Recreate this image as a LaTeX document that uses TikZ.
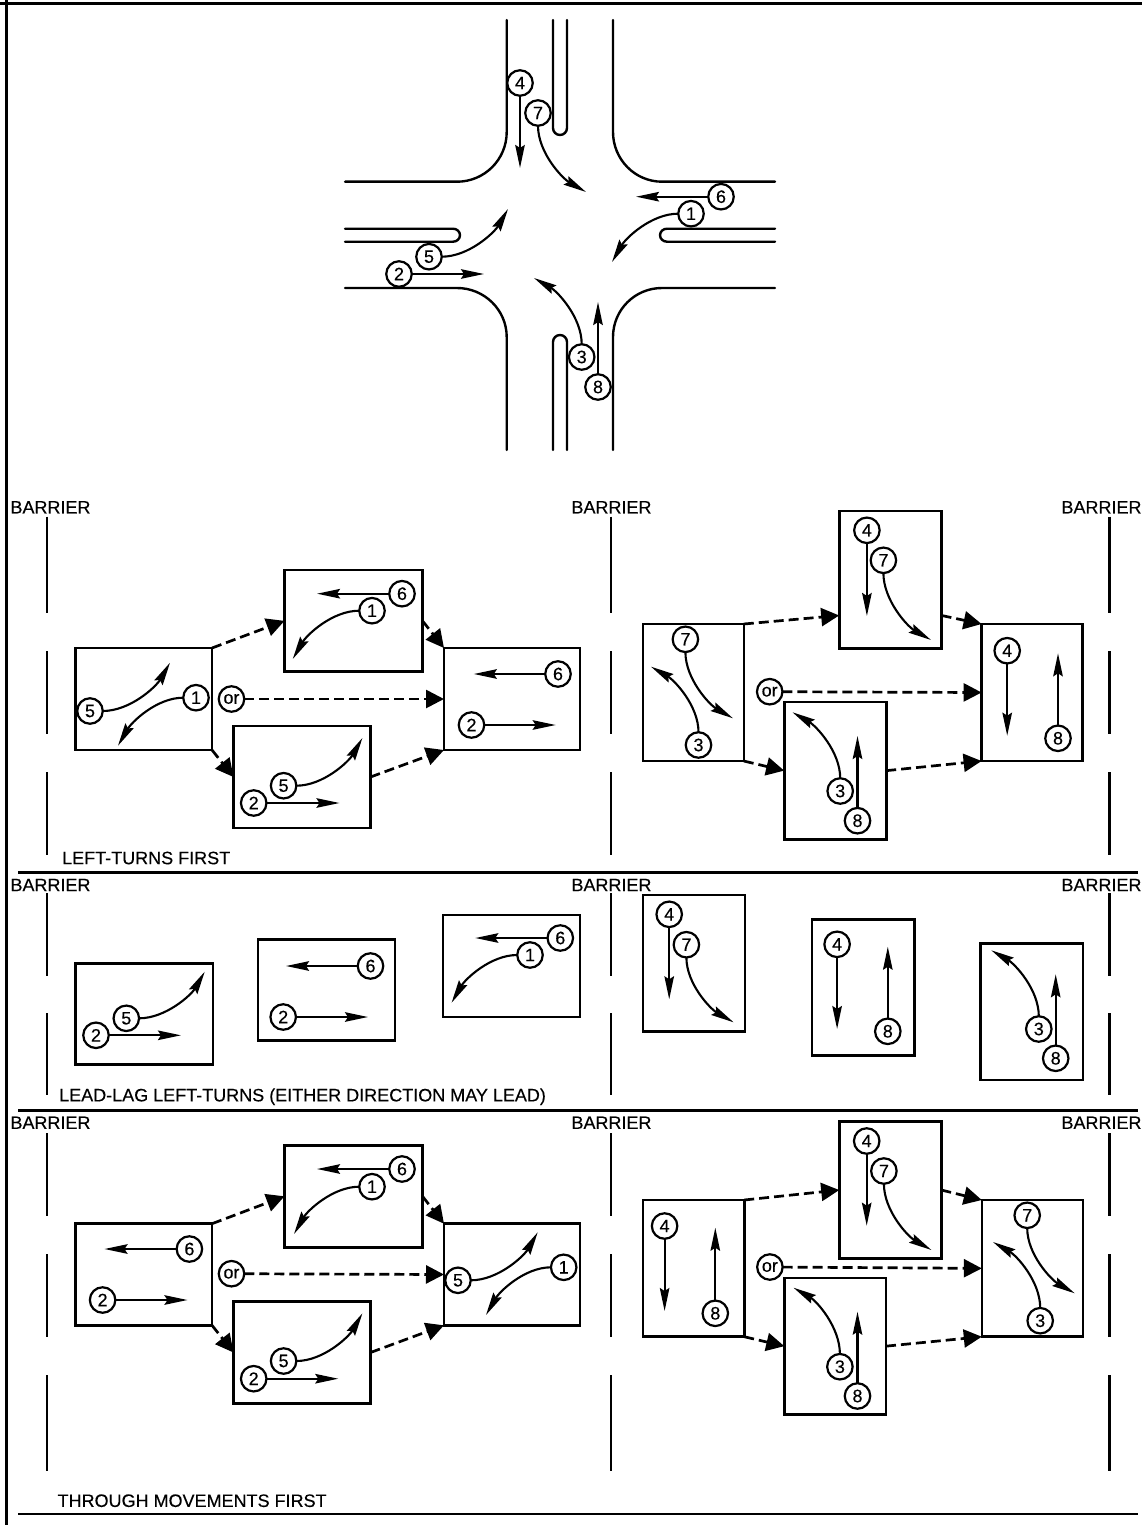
\documentclass[tikz,border=0pt]{standalone}
\usepackage{fontspec}
\setmainfont[FakeBold=0.25]{Liberation Sans}
\usepackage{xcolor}
\usetikzlibrary{arrows.meta,fit}
\tikzset{
    num/.style={circle,draw,fill=white,line width=2.2pt,minimum size=25.5pt,inner sep=0pt,outer sep=0pt,font=\fontsize{18}{18}\selectfont},
    phasebox/.style={rectangle,draw,line width=2.6pt,inner sep=0pt,outer sep=0pt},
    mvarrow/.style={line width=2.1pt,-{Stealth[length=23pt,width=9.5pt,inset=3pt]}},
    nextarrow/.style={line width=2.7pt,dash pattern=on 10pt off 5pt,-{Triangle[length=18pt,width=18pt]}},
    road/.style={line width=2.4pt,line cap=round},
    rule/.style={line width=2.6pt},
    lbl/.style={inner sep=0pt,font=\fontsize{18}{20}\selectfont},
    turnse/.style={out=270,in=150,looseness=0.85},
    turnsw/.style={out=180,in=60,looseness=0.85},
    turnne/.style={out=0,in=240,looseness=0.85},
    turnnw/.style={out=90,in=-30,looseness=0.85}
}
% numbered movement: node, tip coordinate, arrow between them
\newcommand{\mv}[5][]{
    \node[num] (#2) at (#4) {#3};
    \coordinate (#2e) at (#5);
    \draw[mvarrow] (#2) to[#1] (#2e);
}
\newcommand{\phase}[5]{\node[phasebox,fit={(#2,#3) (#4,#5)}] (#1) {};}
\newcommand{\ornode}[2]{\node[num] (#1) at (#2) {or};}
\begin{document}
\begin{tikzpicture}[x=1pt,y=-1pt]
    \useasboundingbox (0,0) rectangle (1142,1525);
    % frame
    \draw[line width=3pt] (0,4) -- (1142,4);
    \draw[line width=3pt] (6.5,0) -- (6.5,1525);
    % intersection kerbs
    \draw[road] (506.7,20) -- (506.7,132) to[out=270,in=0] (457,181.7) -- (345,181.7);
    \draw[road] (613,20) -- (613,132) to[out=270,in=180] (662,181.7) -- (775,181.7);
    \draw[road] (345,288) -- (457,288) to[out=0,in=90] (506.7,337) -- (506.7,450);
    \draw[road] (775,288) -- (662,288) to[out=180,in=90] (613,337) -- (613,450);
    % medians
    \draw[road] (553,20) -- (553,128) to[out=270,in=180] (560,135) to[out=0,in=270] (567,128) -- (567,20);
    \draw[road] (553,450) -- (553,342) to[out=90,in=180] (560,335) to[out=0,in=90] (567,342) -- (567,450);
    \draw[road] (345,228.7) -- (453,228.7) to[out=0,in=90] (460,235.2) to[out=270,in=0] (453,241.7) -- (345,241.7);
    \draw[road] (775,228.7) -- (667,228.7) to[out=180,in=90] (660,235.2) to[out=270,in=180] (667,241.7) -- (775,241.7);
    % movements at the intersection
    \mv{t4}{4}{520,83}{520,168}
    \mv[turnse]{t7}{7}{538,113}{586,192}
    \mv{t6}{6}{721,196.7}{636,196.7}
    \mv[turnsw]{t1}{1}{691,213.7}{612,262}
    \mv[turnne]{t5}{5}{429,256.7}{508,209}
    \mv{t2}{2}{399,274}{484,274}
    \mv[turnnw]{t3}{3}{581.7,357}{534,278}
    \mv{t8}{8}{598,387}{598,302}
    % barriers
    \foreach \xx in {47,611,1109.5}{
        \foreach \ya/\yb in {516.7/613,651/734,772/855,893/976,1013/1095,1133/1216,1254/1336.7,1375/1470.7}
            \draw[line width=2.6pt] (\xx,\ya) -- (\xx,\yb);
    }
    \foreach \yy/\nn in {507.3/a,885/b,1122.7/c}{
        \node[lbl] (bar\nn1) at (50.5,\yy) {BARRIER};
        \node[lbl] (bar\nn2) at (611.5,\yy) {BARRIER};
        \node[lbl] (bar\nn3) at (1101.5,\yy) {BARRIER};
    }
    % section rules and titles
    \draw[rule] (18,872.5) -- (1138,872.5);
    \draw[rule] (18,1110.7) -- (1138,1110.7);
    \draw[rule] (18,1514) -- (1138,1514);
    \node[lbl,anchor=west] (ttla) at (62,858) {LEFT-TURNS FIRST};
    \node[lbl,anchor=west] (ttlb) at (59,1096.7) {LEAD-LAG LEFT-TURNS (EITHER DIRECTION MAY LEAD)};
    \node[lbl,anchor=west] (ttlc) at (57.4,1500.7) {THROUGH MOVEMENTS FIRST};
    % left-turns first, left
    \phase{a1}{75.5}{648}{212}{750}
    \phase{a2}{284.5}{570}{422.5}{671.7}
    \phase{a3}{233.5}{726}{370.5}{828}
    \phase{a4}{444}{648}{580}{750}
    \mv[turnne]{a1f}{5}{90,711}{170,662.7}
    \mv[turnsw]{a1a}{1}{196,697.7}{118,745.7}
    \mv{a2f}{6}{402,593.7}{317,593.7}
    \mv[turnsw]{a2a}{1}{372,610.7}{292.8,659}
    \mv[turnne]{a3f}{5}{283.6,785.7}{362.4,738}
    \mv{a3a}{2}{253.7,803}{339.5,803}
    \mv{a4f}{6}{558,674}{473.8,674}
    \mv{a4a}{2}{471.5,725}{555.7,725}
    \ornode{aor}{231.5,699}
    \draw[nextarrow] (a1.north east) -- (a2.west);
    \draw[nextarrow] (a2.east) -- (a4.north west);
    \draw[nextarrow] (a1.south east) -- (a3.west);
    \draw[nextarrow] (a3.east) -- (a4.south west);
    \draw[nextarrow] (aor) -- (a4.west);
    % left-turns first, right
    \phase{b1}{642.9}{624}{743.8}{761}
    \phase{b2}{839.2}{511}{941.5}{648.3}
    \phase{b3}{784.2}{702}{886.2}{839.3}
    \phase{b4}{981.6}{624}{1082.5}{761}
    \mv[turnse]{b1f}{7}{685.4,639.3}{733,718.3}
    \mv[turnnw]{b1a}{3}{698.5,745}{651,666.7}
    \mv{b2f}{4}{866.9,530.3}{866.9,616}
    \mv[turnse]{b2a}{7}{883.4,560.3}{931,640}
    \mv[turnnw]{b3f}{3}{840.2,791}{792.5,712.3}
    \mv{b3a}{8}{857.5,820.7}{857.5,736}
    \mv{b4f}{4}{1007.2,650.7}{1007.2,735.7}
    \mv{b4a}{8}{1058,738.3}{1058,653.3}
    \ornode{bor}{769.7,691.7}
    \draw[nextarrow] (b1.north east) -- (b2.215);
    \draw[nextarrow] (b2.-35) -- (b4.north west);
    \draw[nextarrow] (b1.south east) -- (b3.west);
    \draw[nextarrow] (b3.east) -- (b4.south west);
    \draw[nextarrow] (bor) -- (b4.west);
    % lead-lag, left
    \phase{c1}{75.5}{963.3}{213}{1064.3}
    \phase{c2}{258}{939.3}{395}{1040.7}
    \phase{c3}{443}{915}{580}{1017}
    \mv[turnne]{c1f}{5}{126.3,1018.3}{204.7,971.7}
    \mv{c1a}{2}{96,1035.3}{181,1035.3}
    \mv{c2f}{6}{370.5,966}{286,966}
    \mv{c2a}{2}{283.2,1017}{368,1017}
    \mv{c3f}{6}{560.3,938}{475.3,938}
    \mv[turnsw]{c3a}{1}{530,955}{451.6,1002.7}
    % lead-lag, right
    \phase{d1}{642.8}{895}{744.9}{1031.7}
    \phase{d2}{812}{919.3}{914.2}{1055.7}
    \phase{d3}{980.7}{943.3}{1082.8}{1080}
    \mv{d1f}{4}{669.2,914.3}{669.2,999.3}
    \mv[turnse]{d1a}{7}{686.4,944.7}{733.6,1022.3}
    \mv{d2f}{4}{837.1,944.3}{837.1,1029}
    \mv{d2a}{8}{887.8,1031.3}{887.8,946.7}
    \mv[turnnw]{d3f}{3}{1038.8,1029}{991.3,950.3}
    \mv{d3a}{8}{1055.7,1058.3}{1055.7,974.3}
    % through movements first, left
    \phase{e1}{75.5}{1223.7}{212}{1325.3}
    \phase{e2}{284.5}{1145.3}{422.5}{1247.3}
    \phase{e3}{233.5}{1301.3}{370.5}{1403.7}
    \phase{e4}{444}{1223.7}{580}{1325.3}
    \mv{e1f}{6}{189.4,1249}{104.5,1249}
    \mv{e1a}{2}{102.6,1300}{187.5,1300}
    \mv{e2f}{6}{402,1169}{317,1169}
    \mv[turnsw]{e2a}{1}{372,1186.7}{294,1234}
    \mv[turnne]{e3f}{5}{283.6,1361}{362.4,1313.3}
    \mv{e3a}{2}{253.7,1378.7}{338.3,1378.7}
    \mv[turnne]{e4f}{5}{458,1280.3}{537.7,1232.3}
    \mv[turnsw]{e4a}{1}{563.7,1267.3}{486,1315}
    \ornode{eor}{231.5,1273.7}
    \draw[nextarrow] (e1.north east) -- (e2.west);
    \draw[nextarrow] (e2.east) -- (e4.north west);
    \draw[nextarrow] (e1.south east) -- (e3.west);
    \draw[nextarrow] (e3.east) -- (e4.south west);
    \draw[nextarrow] (eor) -- (e4.west);
    % through movements first, right
    \phase{f1}{642.8}{1200}{744.2}{1336.7}
    \phase{f2}{839.2}{1121.7}{941.3}{1258.3}
    \phase{f3}{784.3}{1278}{886}{1414.3}
    \phase{f4}{981.8}{1200}{1082.8}{1336.7}
    \mv{f1f}{4}{664.6,1226}{664.6,1311}
    \mv{f1a}{8}{715.3,1313.3}{715.3,1227.7}
    \mv{f2f}{4}{866.7,1141}{866.7,1225.7}
    \mv[turnse]{f2a}{7}{883.9,1171}{931.4,1250}
    \mv[turnnw]{f3f}{3}{839.9,1366.7}{793.5,1287.7}
    \mv{f3a}{8}{857.5,1396}{857.5,1311.7}
    \mv[turnse]{f4f}{7}{1027.2,1215.3}{1074.7,1293.3}
    \mv[turnnw]{f4a}{3}{1040.2,1320.7}{993,1242}
    \ornode{ffor}{769.9,1267}
    \draw[nextarrow] (f1.north east) -- (f2.west);
    \draw[nextarrow] (f2.east) -- (f4.north west);
    \draw[nextarrow] (f1.south east) -- (f3.west);
    \draw[nextarrow] (f3.east) -- (f4.south west);
    \draw[nextarrow] (ffor) -- (f4.west);
\end{tikzpicture}
\end{document}
